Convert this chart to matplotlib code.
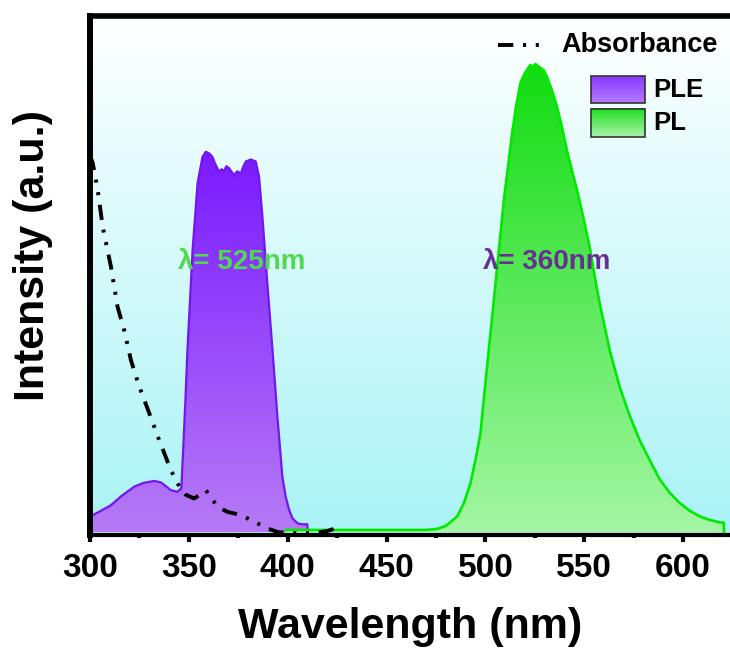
import numpy as np
import matplotlib
matplotlib.use("Agg")
import matplotlib.pyplot as plt
from matplotlib.colors import to_rgb
from matplotlib.patches import Polygon, Rectangle
from matplotlib.ticker import MultipleLocator

plt.rcParams['lines.scale_dashes'] = False

# Photoluminescence excitation spectrum (monitored at 525 nm)
ple_wl = [300, 305, 310.6, 316, 322.4, 327, 332.5, 335.9, 338, 340.9, 344.3, 346.2,
          347, 348.2, 349.3, 351.9, 354.4, 356.9, 358.6, 360.5, 361.9, 363.5, 365.3,
          366.5, 367.8, 369, 370.4, 371.8, 372.9, 374.5, 376.3, 377.5, 378.8, 381.3,
          383.8, 385.5, 387.2, 389.7, 392.3, 394.8, 397.3, 399, 400.7, 402.5, 404.9,
          407, 409.9, 410.2]
ple_int = [0.030, 0.040, 0.052, 0.070, 0.088, 0.095, 0.099, 0.096, 0.090, 0.081, 0.078, 0.085,
           0.150, 0.250, 0.353, 0.547, 0.676, 0.727, 0.737, 0.733, 0.727, 0.712, 0.698,
           0.703, 0.700, 0.709, 0.705, 0.697, 0.692, 0.699, 0.695, 0.708, 0.718, 0.722,
           0.718, 0.689, 0.611, 0.482, 0.353, 0.223, 0.107, 0.068, 0.043, 0.026, 0.017,
           0.015, 0.015, 0.0]

# Photoluminescence emission spectrum (excited at 360 nm)
pl_wl = [399, 420, 450, 470, 475.6, 480, 485.7, 489, 492.4, 495, 497.5, 499.5, 501.7,
         503.5, 505.1, 507.3, 509.3, 511.5, 513.5, 515.5, 517.7, 520, 522.7, 524, 525.3,
         526.5, 528, 529.5, 531.1, 533.5, 536.2, 538.7, 541.2, 543.8, 546.3, 549.5, 553,
         555.5, 558.1, 563, 568, 573, 578, 583, 588, 593, 598, 603, 608, 613, 618, 620.5,
         620.7]
pl_int = [0.004, 0.004, 0.004, 0.004, 0.006, 0.012, 0.030, 0.055, 0.094, 0.140, 0.191, 0.270,
          0.353, 0.420, 0.482, 0.565, 0.643, 0.710, 0.773, 0.825, 0.870, 0.890, 0.905, 0.902,
          0.907, 0.903, 0.899, 0.895, 0.882, 0.858, 0.824, 0.785, 0.740, 0.700, 0.663, 0.610,
          0.547, 0.490, 0.437, 0.350, 0.280, 0.225, 0.178, 0.140, 0.103, 0.077, 0.057, 0.042,
          0.031, 0.024, 0.019, 0.018, 0.0]

# Absorbance spectrum
abs_wl = [300, 301.4, 303.9, 306.4, 310.6, 313.9, 317.3, 320.7, 324.9, 330, 335, 340.9,
          344.3, 348.5, 352.7, 355.5, 358.6, 361, 364.5, 369.5, 376.3, 383, 389.7, 394.8,
          400, 410, 416.7, 420, 424.2]
abs_int = [0.730, 0.715, 0.663, 0.592, 0.514, 0.437, 0.391, 0.333, 0.282, 0.230, 0.178, 0.120,
           0.094, 0.072, 0.065, 0.072, 0.081, 0.068, 0.049, 0.039, 0.033, 0.020, 0.007, 0.0,
           -0.002, -0.002, 0.0, 0.002, 0.007]

xticks = [300, 350, 400, 450, 500, 550, 600]

W, H = 730, 652
fig = plt.figure(figsize=(W / 100, H / 100), dpi=100)
ax = fig.add_axes([90 / W, 117 / H, 640 / W, 519.5 / H])
ax.set_xlim(300, 623.7)
ax.set_ylim(-0.0058, 1.001)


def vertical_gradient(c_bottom, c_top, n=256):
    b = np.array(to_rgb(c_bottom))
    t = np.array(to_rgb(c_top))
    f = np.linspace(0, 1, n)[:, None]
    return (b + (t - b) * f)[:, None, :]


# background wash
ax.imshow(vertical_gradient('#a9f3f6', '#ffffff'), extent=[0, 1, 0, 1],
          transform=ax.transAxes, origin='lower', aspect='auto', zorder=0)


def gradient_area(x, y, c_bottom, c_top, edge, lw, z):
    x = np.asarray(x, float)
    y = np.asarray(y, float)
    verts = np.column_stack([np.r_[x[0], x, x[-1]], np.r_[0, y, 0]])
    poly = Polygon(verts, closed=True, facecolor='none', edgecolor='none')
    ax.add_patch(poly)
    img = ax.imshow(vertical_gradient(c_bottom, c_top), extent=[x.min(), x.max(), 0, y.max()],
                    origin='lower', aspect='auto', zorder=z)
    img.set_clip_path(poly)
    ax.plot(x, y, color=edge, lw=lw, zorder=z + 0.1, solid_joinstyle='round')


gradient_area(ple_wl, ple_int, '#b67af6', '#7a1aff', '#7416f0', 1.6, 2)
gradient_area(pl_wl, pl_int, '#a4f6a4', '#12dc12', '#00ea00', 1.9, 3)

dash_style = (0, (11, 7, 2.2, 7, 2.2, 7))
ax.plot(abs_wl, abs_int, color='black', lw=2.8, linestyle=dash_style, zorder=5)

txt_font = dict(family='Liberation Sans', weight='bold', fontsize=20)
ax.text(376.5, 0.523, 'λ= 525nm', color='#4fd94f', ha='center', va='center', zorder=6, **txt_font)
ax.text(531.0, 0.523, 'λ= 360nm', color='#6a2c96', ha='center', va='center', zorder=6, **txt_font)

# legend
ax.plot([0.6375, 0.7156], [0.943, 0.943], transform=ax.transAxes, color='black',
        lw=2.8, linestyle=dash_style, zorder=7, clip_on=False)
ax.text(0.737, 0.943, 'Absorbance', transform=ax.transAxes, ha='left', va='center',
        zorder=7, family='Liberation Sans', weight='bold', fontsize=19.5)

for (y0, y1, cb, ct, label) in [(0.8316, 0.8835, '#b67cff', '#8838ff', 'PLE'),
                                 (0.766, 0.820, '#a8f6a8', '#20dc20', 'PL')]:
    ax.imshow(vertical_gradient(cb, ct), extent=[0.783, 0.867, y0, y1],
              transform=ax.transAxes, origin='lower', aspect='auto', zorder=7)
    ax.add_patch(Rectangle((0.783, y0), 0.084, y1 - y0, transform=ax.transAxes,
                           facecolor='none', edgecolor='#333333', lw=1.2, zorder=8))
    ax.text(0.8797, (y0 + y1) / 2, label, transform=ax.transAxes, ha='left', va='center',
            zorder=7, family='Liberation Sans', weight='bold', fontsize=18.5)

ax.set_xlim(300, 623.7)
ax.set_ylim(-0.0058, 1.001)

# axes frame and ticks
ax.spines['left'].set_linewidth(4.3)
ax.spines['top'].set_linewidth(4.0)
ax.spines['bottom'].set_linewidth(3.0)
ax.spines['right'].set_visible(False)
for s in ax.spines.values():
    s.set_zorder(10)

ax.set_xticks(xticks)
ax.xaxis.set_minor_locator(MultipleLocator(25))
ax.set_yticks([])
ax.tick_params(axis='x', which='major', direction='out', length=5, width=3, pad=8)
ax.tick_params(axis='x', which='minor', direction='out', length=2.5, width=3)
for lab in ax.get_xticklabels():
    lab.set_family('Liberation Sans')
    lab.set_weight('bold')
    lab.set_fontsize(24)

lbl_font = dict(family='Liberation Sans', weight='bold', fontsize=31)
fig.text(410 / W, 1 - 627 / H, 'Wavelength (nm)', ha='center', va='center', **lbl_font)
fig.text(33 / W, 1 - 255 / H, 'Intensity (a.u.)', ha='center', va='center', rotation=90, **lbl_font)

fig.savefig('out.png', dpi=100)
